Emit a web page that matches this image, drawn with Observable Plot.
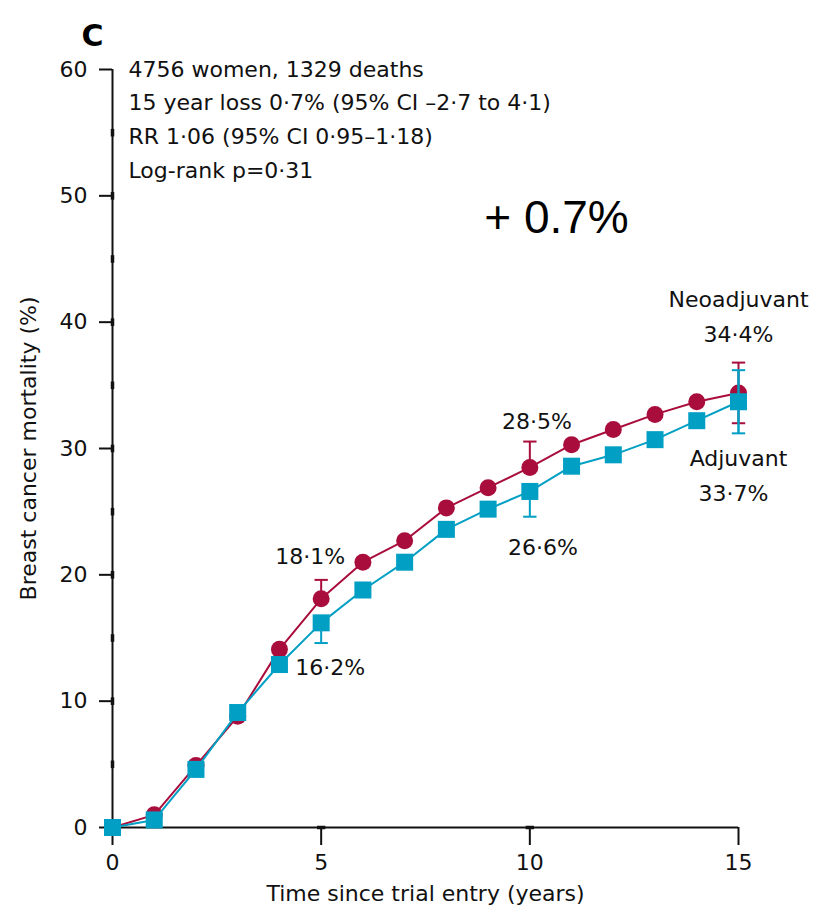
<!DOCTYPE html>
<html><head><meta charset="utf-8">
<script src="https://cdn.jsdelivr.net/npm/d3@7"></script>
<script src="https://cdn.jsdelivr.net/npm/@observablehq/plot@0.6"></script>
<style>body{margin:0;background:#fff;} svg{overflow:visible}</style>
</head><body><div id="chart"></div>
<script>
const years = [0,1,2,3,4,5,6,7,8,9,10,11,12,13,14,15];
const neoadjuvant = [0,1.0,4.9,8.8,14.1,18.1,21.0,22.7,25.3,26.9,28.5,30.3,31.5,32.7,33.7,34.4];
const adjuvant = [0,0.6,4.6,9.1,12.9,16.2,18.8,21.0,23.6,25.2,26.6,28.6,29.5,30.7,32.2,33.7];
const neoErr = [{x:5,lo:18.1,hi:19.6},{x:10,lo:28.5,hi:30.55},{x:15,lo:32.0,hi:36.8}];
const adjErr = [{x:5,lo:14.6,hi:16.2},{x:10,lo:24.6,hi:26.6},{x:15,lo:31.2,hi:36.2}];
const yTicks = [0,10,20,30,40,50,60];
const xTicks = [0,5,10,15];
const yMinor = [5,10,15,20,25,30,35,40,45,50,55];
const xMinor = [5,10];
const statsLines = ["4756 women, 1329 deaths","15 year loss 0·7% (95% CI –2·7 to 4·1)","RR 1·06 (95% CI 0·95–1·18)","Log-rank p=0·31"];
const pointLabels = [
  {x:5,y:18.1,text:"18·1%",dx:-11,dy:-42},
  {x:5,y:16.2,text:"16·2%",dx:9,dy:45},
  {x:10,y:28.5,text:"28·5%",dx:7,dy:-45},
  {x:10,y:26.6,text:"26·6%",dx:13,dy:56},
  {x:15,y:34.4,text:"Neoadjuvant",dx:0,dy:-93},
  {x:15,y:34.4,text:"34·4%",dx:0,dy:-58},
  {x:15,y:33.7,text:"Adjuvant",dx:0,dy:57},
  {x:15,y:33.7,text:"33·7%",dx:-5,dy:92}
];
const RED = "#a90d3b", BLUE = "#019fc4";
const neo = years.map((x,i)=>({x,y:neoadjuvant[i]}));
const adj = years.map((x,i)=>({x,y:adjuvant[i]}));
const font = "DejaVu Sans, sans-serif";
const FS = 22;
const cap = 0.16;

const chart = Plot.plot({
  width: 813, height: 910,
  marginLeft: 112, marginRight: 75, marginTop: 69, marginBottom: 83,
  style: {fontFamily: font, fontSize: FS + "px", color: "#111", background: "#fff"},
  x: {domain: [0,15]},
  y: {domain: [0,60]},
  marks: [
    Plot.axisX({ticks: xTicks, tickSize: 18, tickPadding: 9, fontSize: FS, label: "Time since trial entry (years)", labelAnchor: "center", labelOffset: 73, labelArrow: "none", strokeWidth: 2}),
    Plot.axisY({ticks: yTicks, tickSize: 13, tickPadding: 12, fontSize: FS, label: "Breast cancer mortality (%)", labelAnchor: "center", labelOffset: 92, labelArrow: "none", strokeWidth: 2}),
    Plot.ruleX([0], {y1: 0, y2: 60, stroke: "#111", strokeWidth: 2}),
    Plot.ruleY([0], {x1: 0, x2: 15, stroke: "#111", strokeWidth: 2}),
    Plot.link(yMinor, {x1: 0, x2: 0, y1: d=>d-0.3, y2: d=>d+0.3, stroke: "#111", strokeWidth: 3.5}),
    Plot.link(xMinor, {y1: 0, y2: 0, x1: d=>d-0.1, x2: d=>d+0.1, stroke: "#111", strokeWidth: 3.5}),
    // neoadjuvant
    Plot.line(neo, {x: "x", y: "y", stroke: RED, strokeWidth: 2}),
    Plot.link(neoErr, {x1: "x", x2: "x", y1: "lo", y2: "hi", stroke: RED, strokeWidth: 2}),
    Plot.link(neoErr, {x1: d=>d.x-cap, x2: d=>d.x+cap, y1: "hi", y2: "hi", stroke: RED, strokeWidth: 2}),
    Plot.link(neoErr.filter(d=>d.x===15), {x1: d=>d.x-cap, x2: d=>d.x+cap, y1: "lo", y2: "lo", stroke: RED, strokeWidth: 2}),
    Plot.dot(neo, {x: "x", y: "y", r: 8.5, fill: RED, symbol: "circle"}),
    // adjuvant
    Plot.line(adj, {x: "x", y: "y", stroke: BLUE, strokeWidth: 2}),
    Plot.link(adjErr, {x1: "x", x2: "x", y1: "lo", y2: "hi", stroke: BLUE, strokeWidth: 2}),
    Plot.link(adjErr, {x1: d=>d.x-cap, x2: d=>d.x+cap, y1: "lo", y2: "lo", stroke: BLUE, strokeWidth: 2}),
    Plot.link(adjErr.filter(d=>d.x===15), {x1: d=>d.x-cap, x2: d=>d.x+cap, y1: "hi", y2: "hi", stroke: BLUE, strokeWidth: 2}),
    Plot.dot(adj, {x: "x", y: "y", r: 9.6, fill: BLUE, symbol: "square"}),
    Plot.link(adjErr.filter(d=>d.x===15), {x1: "x", x2: "x", y1: "lo", y2: "hi", stroke: BLUE, strokeWidth: 2}),
    // labels
    ...pointLabels.map(l => Plot.text([l], {x: "x", y: "y", text: "text", dx: l.dx, dy: l.dy, fill: "#111", fontSize: FS})),
    Plot.text([statsLines.join("\n")], {frameAnchor: "top-left", text: d=>d, dx: 16, dy: -17, fill: "#111", fontSize: FS, lineAnchor: "top", lineHeight: 1.54}),
    Plot.text(["+ 0.7%"], {frameAnchor: "top", dx: 131, dy: 131, text: d=>d, fontFamily: "Liberation Sans, Arial, sans-serif", fontSize: 46, fill: "#000"}),
    Plot.text(["C"], {frameAnchor: "top-left", dx: -31, dy: -45, text: d=>d, fontWeight: "bold", fontSize: 30, fill: "#000"})
  ]
});
document.getElementById("chart").appendChild(chart);
</script>
</body></html>
